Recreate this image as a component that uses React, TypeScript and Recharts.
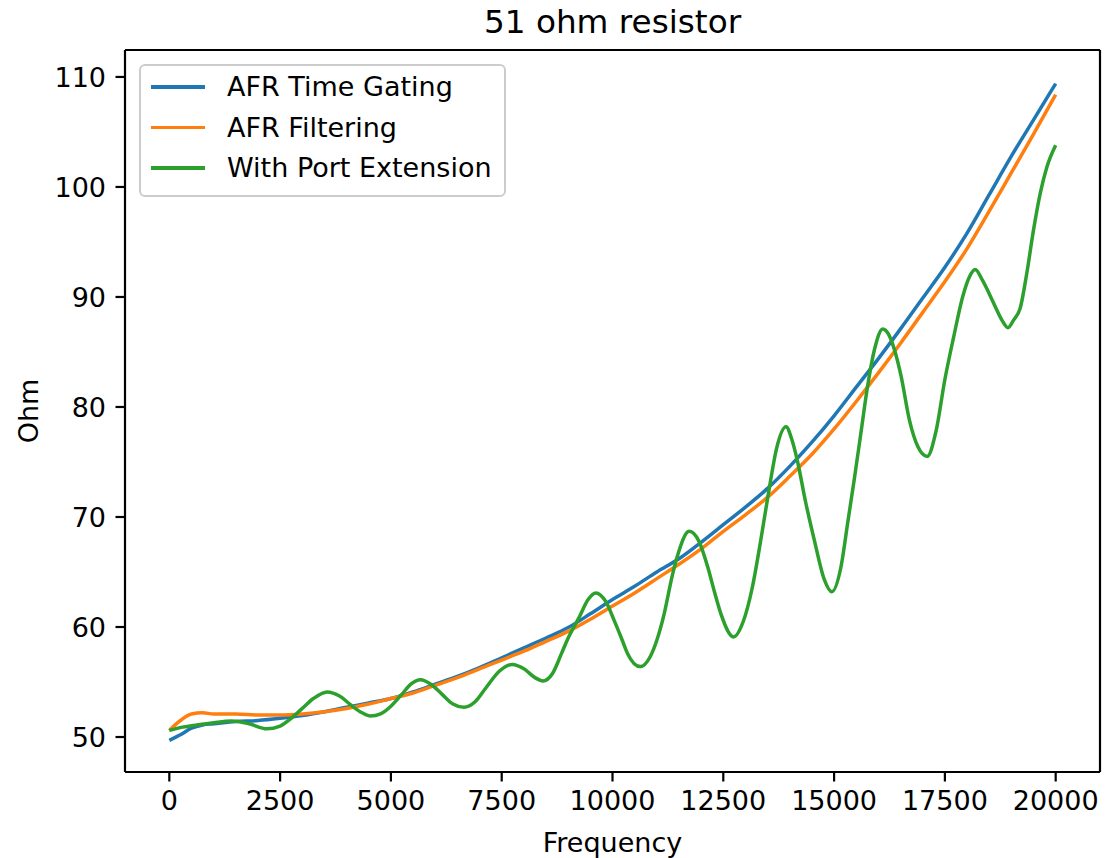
import React from "react";
import {
  LineChart,
  Line,
  XAxis,
  YAxis,
  Legend,
  Label,
  ReferenceLine,
} from "recharts";

const FONT = "DejaVu Sans";

// frequency grid shared by the two AFR curves
const afrFreq = [
  0, 250, 500, 750, 1000, 1500, 2000, 2500, 3000, 3500, 4000, 4500, 5000, 5500,
  6000, 6500, 7000, 7500, 8000, 8500, 9000, 9500, 10000, 10500, 11000, 11500,
  12000, 12500, 13000, 13500, 14000, 14500, 15000, 15500, 16000, 16500, 17000,
  17500, 18000, 18500, 19000, 19500, 20000,
];

const timeGatingOhm = [
  49.7, 50.2, 50.8, 51.1, 51.2, 51.4, 51.5, 51.7, 51.95, 52.3, 52.7, 53.1, 53.5,
  54.1, 54.8, 55.5, 56.3, 57.2, 58.1, 59.0, 59.95, 61.2, 62.5, 63.7, 65.0, 66.2,
  67.7, 69.3, 70.9, 72.6, 74.6, 76.8, 79.2, 81.8, 84.4, 87.1, 89.9, 92.7, 95.8,
  99.3, 102.8, 106.1, 109.4,
];

const filteringOhm = [
  50.6, 51.5, 52.1, 52.2, 52.1, 52.1, 52.0, 52.0, 52.1, 52.3, 52.6, 53.0, 53.5,
  54.0, 54.7, 55.4, 56.2, 57.0, 57.8, 58.7, 59.6, 60.7, 61.9, 63.1, 64.4, 65.7,
  67.1, 68.7, 70.2, 71.8, 73.7, 75.7, 78.0, 80.5, 83.1, 85.8, 88.6, 91.4, 94.4,
  97.8, 101.3, 104.8, 108.4,
];

// port extension curve, read at its peaks, troughs and edges
const portFreq = [
  0, 300, 625, 1000, 1400, 1800, 2200, 2500, 2750, 3000, 3250, 3562, 3850, 4100,
  4350, 4540, 4766, 5000, 5250, 5450, 5670, 5900, 6150, 6400, 6649, 6900, 7150,
  7450, 7741, 8000, 8250, 8433, 8650, 8850, 9000, 9250, 9450, 9623, 9850, 10037,
  10200, 10338, 10624, 10850, 11000, 11166, 11350, 11468, 11731, 11950, 12146,
  12300, 12446, 12733, 12950, 13150, 13350, 13537, 13700, 13915, 14050, 14178,
  14350, 14554, 14780, 14946, 15157, 15308, 15458, 15600, 15760, 15910, 16099,
  16230, 16362, 16512, 16700, 16889, 17100, 17300, 17500, 17700, 17900, 18050,
  18184, 18350, 18500, 18650, 18800, 18922, 19050, 19200, 19350, 19500, 19650,
  19800, 20000,
];

const portOhm = [
  50.6, 50.9, 51.1, 51.3, 51.45, 51.2, 50.75, 51.0, 51.7, 52.6, 53.5, 54.1, 53.7,
  52.9, 52.2, 51.9, 52.1, 52.8, 53.9, 54.8, 55.2, 54.8, 53.9, 53.0, 52.7, 53.2,
  54.5, 56.0, 56.6, 56.2, 55.4, 55.1, 55.8, 57.6, 59.0, 60.9, 62.5, 63.1, 62.3,
  60.6, 59.0, 57.6, 56.4, 57.3, 58.8, 61.2, 64.7, 66.5, 68.7, 67.8, 65.5, 63.2,
  61.2, 59.1, 60.5, 63.5, 68.0, 72.6, 76.2, 78.2, 77.0, 75.0, 71.5, 67.9, 64.3,
  63.2, 65.5, 69.5, 73.5, 77.5, 82.0, 85.2, 87.1, 86.6, 85.2, 82.8, 78.8, 76.4,
  75.5, 77.8, 82.5, 86.4, 90.0, 91.8, 92.5, 91.5, 90.3, 89.0, 87.8, 87.2, 87.9,
  89.0, 92.2, 96.1, 99.4, 101.8, 103.8,
];

const xTicks = [0, 2500, 5000, 7500, 10000, 12500, 15000, 17500, 20000];
const yTicks = [50, 60, 70, 80, 90, 100, 110];

const seriesNames = ["AFR Time Gating", "AFR Filtering", "With Port Extension"];
const seriesColors = ["#1f77b4", "#ff7f0e", "#2ca02c"];

const X_MIN = -1000;
const X_MAX = 21000;
const Y_MIN = 46.82;
const Y_MAX = 112.45;

const zip = (xs: number[], ys: number[]) => xs.map((f, i) => ({ f, v: ys[i] }));

const timeGatingData = zip(afrFreq, timeGatingOhm);
const filteringData = zip(afrFreq, filteringOhm);
const portData = zip(portFreq, portOhm);

const tickStyle = { fill: "#000", fontSize: 27, fontFamily: FONT };
const spine = { stroke: "#000", strokeWidth: 2.2 };

function LegendBox() {
  return (
    <div
      style={{
        position: "relative",
        width: 367,
        height: 133,
        boxSizing: "border-box",
        border: "2px solid #cccccc",
        borderRadius: 6,
        background: "rgba(255,255,255,0.8)",
        fontFamily: FONT,
        fontSize: 27,
        color: "#000",
      }}
    >
      {seriesNames.map((name, i) => (
        <div
          key={name}
          style={{
            position: "absolute",
            left: 0,
            top: 21 + i * 40.5 - 20,
            height: 40,
            display: "flex",
            alignItems: "center",
            whiteSpace: "nowrap",
          }}
        >
          <span
            style={{
              display: "inline-block",
              marginLeft: 10,
              width: 54,
              height: 3.5,
              background: seriesColors[i],
            }}
          />
          <span style={{ marginLeft: 22, lineHeight: "40px" }}>{name}</span>
        </div>
      ))}
    </div>
  );
}

function OhmLabel(props: any) {
  const vb = props.viewBox || { x: 0, y: 50, width: 125, height: 722 };
  const cx = 28;
  const cy = vb.y + vb.height / 2;
  return (
    <text
      x={cx}
      y={cy}
      transform={`rotate(-90, ${cx}, ${cy})`}
      textAnchor="middle"
      dominantBaseline="central"
      fill="#000"
      fontSize={27}
      fontFamily={FONT}
    >
      Ohm
    </text>
  );
}

export default function App() {
  return (
    <div
      style={{
        position: "absolute",
        left: 0,
        top: 0,
        width: 1114,
        height: 858,
        background: "#fff",
      }}
    >
      <div
        style={{
          position: "absolute",
          left: 125,
          width: 975,
          top: 6,
          textAlign: "center",
          fontFamily: FONT,
          fontSize: 32.7,
          lineHeight: "32.7px",
          color: "#000",
        }}
      >
        51 ohm resistor
      </div>
      <LineChart
        width={1114}
        height={858}
        margin={{ top: 50, right: 14, bottom: 0, left: 0 }}
      >
        <XAxis
          type="number"
          dataKey="f"
          domain={[X_MIN, X_MAX]}
          ticks={xTicks}
          interval={0}
          allowDataOverflow
          height={86}
          tick={tickStyle}
          tickLine={spine}
          axisLine={spine}
          tickSize={9.5}
          tickMargin={9.5}
        >
          <Label
            value="Frequency"
            position="insideBottom"
            offset={6}
            fill="#000"
            fontSize={27}
            fontFamily={FONT}
          />
        </XAxis>
        <YAxis
          type="number"
          dataKey="v"
          domain={[Y_MIN, Y_MAX]}
          ticks={yTicks}
          interval={0}
          allowDataOverflow
          width={125}
          tick={tickStyle}
          tickLine={spine}
          axisLine={spine}
          tickSize={9.5}
          tickMargin={9.5}
        >
          <Label content={OhmLabel} />
        </YAxis>
        <ReferenceLine y={Y_MAX} stroke="#000" strokeWidth={2.2} />
        <ReferenceLine x={X_MAX} stroke="#000" strokeWidth={2.2} />
        <Line
          data={timeGatingData}
          dataKey="v"
          name={seriesNames[0]}
          type="monotone"
          stroke={seriesColors[0]}
          strokeWidth={3.5}
          dot={false}
          isAnimationActive={false}
        />
        <Line
          data={filteringData}
          dataKey="v"
          name={seriesNames[1]}
          type="monotone"
          stroke={seriesColors[1]}
          strokeWidth={3.5}
          dot={false}
          isAnimationActive={false}
        />
        <Line
          data={portData}
          dataKey="v"
          name={seriesNames[2]}
          type="monotone"
          stroke={seriesColors[2]}
          strokeWidth={3.5}
          dot={false}
          isAnimationActive={false}
        />
        <Legend
          layout="vertical"
          align="center"
          verticalAlign="middle"
          content={() => <LegendBox />}
          wrapperStyle={{ left: 139, top: 64, width: 367, height: 133 }}
        />
      </LineChart>
    </div>
  );
}
